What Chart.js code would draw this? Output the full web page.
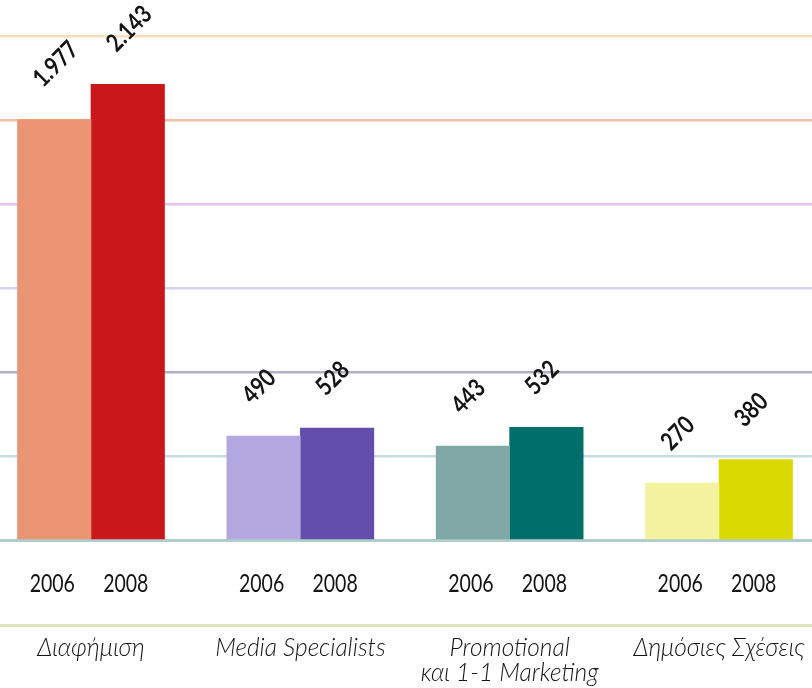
<!DOCTYPE html>
<html>
<head>
<meta charset="utf-8">
<script src="https://cdn.jsdelivr.net/npm/chart.js@4.4.0/dist/chart.umd.min.js"></script>
<style>
  html, body { margin: 0; padding: 0; background: #fff; }
</style>
</head>
<body>
<canvas id="chart" width="812" height="688"></canvas>
<script>
const categories = ['Διαφήμιση', 'Media Specialists', ['Promotional', 'και 1-1 Marketing'], 'Δημόσιες Σχέσεις'];
const years = ['2006', '2008'];
const values2006 = [1977, 490, 443, 270];
const values2008 = [2143, 528, 532, 380];
const colors2006 = ['#EB9474', '#B3A7DF', '#7FA8A7', '#F3F29E'];
const colors2008 = ['#C9171B', '#634FAB', '#006E6B', '#D9D800'];
// value axis: 7 decorative lines, bottom one is the baseline
const gridColors = ['#AECDCB', '#C2DDE5', '#B3AFCB', '#D8D0F0', '#E6C3EC', '#F7BEA6', '#FDDDBB'];

const fmt = v => String(v).replace(/\B(?=(\d{3})+(?!\d))/g, '.');

const toPoints = vals => vals.map((v, i) => ({ x: i, y: v }));

// draw text squeezed horizontally (the original face is narrower than Lato)
function squeezed(ctx, text, x, y, sx) {
  ctx.save();
  ctx.translate(x, y);
  ctx.scale(sx, 1);
  ctx.fillText(text, 0, 0);
  ctx.restore();
}

const labelsPlugin = {
  id: 'labels',
  afterDatasetsDraw(chart) {
    const ctx = chart.ctx;
    const area = chart.chartArea;
    ctx.save();
    ctx.fillStyle = '#141414';
    ctx.textBaseline = 'middle';

    chart.data.datasets.forEach((ds, di) => {
      chart.getDatasetMeta(di).data.forEach((bar, i) => {
        // rotated value above the bar
        ctx.save();
        ctx.translate(bar.x - 17, bar.y - 37);
        ctx.rotate(-Math.PI / 4);
        ctx.font = 'bold 25px Lato, sans-serif';
        ctx.textAlign = 'left';
        squeezed(ctx, fmt(ds.data[i].y), 0, 0, 0.82);
        ctx.restore();

        // year under the bar
        ctx.font = '25px Lato, sans-serif';
        ctx.textAlign = 'center';
        squeezed(ctx, ds.label, bar.x - 2, area.bottom + 43, 0.78);
      });
    });

    // separator line above the category names
    ctx.strokeStyle = '#DDE6BF';
    ctx.lineWidth = 3;
    ctx.beginPath();
    ctx.moveTo(0, area.bottom + 85);
    ctx.lineTo(chart.width, area.bottom + 85);
    ctx.stroke();

    // category names
    const xs = chart.scales.x;
    ctx.font = 'italic 300 24.5px Lato, sans-serif';
    ctx.textAlign = 'center';
    categories.forEach((c, i) => {
      const lines = Array.isArray(c) ? c : [c];
      lines.forEach((t, j) => {
        ctx.fillText(t, xs.getPixelForValue(i), area.bottom + 108 + j * 25);
      });
    });
    ctx.restore();
  }
};

new Chart(document.getElementById('chart'), {
  type: 'bar',
  data: {
    datasets: [
      { label: years[0], data: toPoints(values2006), backgroundColor: colors2006 },
      { label: years[1], data: toPoints(values2008), backgroundColor: colors2008 }
    ]
  },
  options: {
    responsive: false,
    animation: false,
    barThickness: 73.5,
    borderWidth: 0,
    layout: { padding: { top: 36, bottom: 147.5, left: 0, right: 0 } },
    plugins: { legend: { display: false }, tooltip: { enabled: false } },
    scales: {
      x: {
        type: 'linear',
        offset: false,
        min: -0.4347,
        max: 3.4443,
        display: false
      },
      y: {
        min: 0,
        max: 2370,
        ticks: { display: false, stepSize: 395 },
        border: { display: false },
        grid: {
          drawTicks: false,
          color: c => gridColors[c.index],
          lineWidth: c => (c.index === 0 ? 3 : 2.5)
        }
      }
    }
  },
  plugins: [labelsPlugin]
});
</script>
</body>
</html>
